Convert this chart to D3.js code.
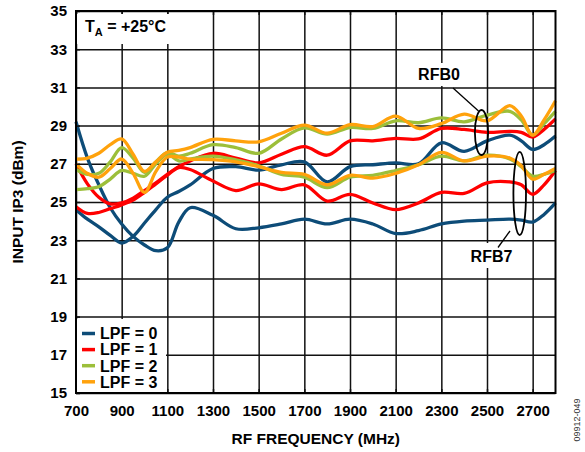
<!DOCTYPE html>
<html>
<head>
<meta charset="utf-8">
<script src="https://cdn.jsdelivr.net/npm/d3@7"></script>
<style>
  body { margin: 0; background: #fff; }
  svg { display: block; font-family: "Liberation Sans", Arial, sans-serif; }
  .tick text { font-weight: bold; font-size: 15px; fill: #000; }
</style>
</head>
<body>
<svg id="chart" width="585" height="452"></svg>
<script>
// frequency points (MHz)
const freq = [700, 750, 800, 850, 900, 950, 1000, 1050, 1100, 1150, 1200, 1300, 1400, 1500, 1600, 1700,
  1800, 1900, 2000, 2100, 2200, 2300, 2400, 2500, 2600, 2650, 2700, 2750, 2800];

// input IP3 (dBm), RFB0 = upper group, RFB7 = lower group
const lpf0Rfb0 = [24.6, 24.1, 23.7, 23.25, 22.85, 23.2, 23.9, 24.6, 25.25, 25.55, 25.9, 26.75, 26.85, 26.67, 26.95, 27.1,
  26.05, 26.85, 26.95, 27.05, 27.0, 28.1, 27.65, 28.2, 28.5, 28.2, 27.75, 28.0, 28.45];
const lpf0Rfb7 = [29.2, 27.3, 25.9, 24.7, 23.85, 23.2, 22.75, 22.45, 22.6, 23.95, 24.7, 24.3, 23.6, 23.65, 23.85, 24.1,
  23.85, 24.1, 23.85, 23.35, 23.5, 23.85, 24.0, 24.05, 24.1, 24.05, 23.95, 24.35, 24.95];
const lpf1Rfb0 = [27.0, 25.95, 25.25, 24.9, 24.95, 25.2, 25.6, 26.0, 26.45, 26.85, 27.15, 27.55, 27.3, 27.05, 27.5, 27.9,
  27.45, 28.2, 28.2, 28.33, 28.3, 28.85, 28.8, 28.65, 28.7, 28.65, 28.4, 28.8, 29.35];
const lpf1Rfb7 = [24.75, 24.4, 24.45, 24.65, 24.85, 25.1, 25.5, 25.95, 26.4, 26.8, 26.7, 26.1, 25.6, 25.95, 25.65, 25.9,
  25.05, 25.4, 24.95, 24.6, 24.95, 25.5, 25.45, 26.0, 26.05, 25.9, 25.4, 25.9, 26.65];
const lpf2Rfb0 = [26.7, 26.45, 26.5, 27.1, 27.85, 27.3, 26.55, 27.1, 27.6, 27.4, 27.55, 28.0, 27.85, 27.55, 28.3, 28.88,
  28.55, 28.9, 28.85, 29.25, 29.15, 29.4, 29.2, 29.55, 29.75, 29.3, 28.5, 29.1, 29.75];
const lpf2Rfb7 = [25.65, 25.7, 25.8, 26.2, 26.65, 26.5, 26.35, 27.0, 27.5, 27.15, 27.25, 27.4, 27.2, 26.9, 26.45, 26.3,
  25.75, 26.3, 26.4, 26.65, 26.95, 27.4, 27.15, 27.45, 27.25, 26.85, 26.35, 26.45, 26.65];
const lpf3Rfb0 = [27.25, 27.3, 27.55, 28.0, 28.3, 27.5, 26.6, 27.1, 27.6, 27.7, 27.85, 28.28, 28.2, 28.15, 28.6, 29.03,
  28.6, 29.05, 28.95, 29.5, 28.85, 29.1, 29.6, 29.25, 30.05, 29.5, 28.5, 29.3, 30.3];
const lpf3Rfb7 = [27.0, 26.5, 26.3, 26.75, 27.25, 26.5, 25.5, 26.6, 27.35, 27.35, 27.25, 27.22, 27.1, 26.85, 26.55, 26.45,
  25.9, 26.4, 26.25, 26.5, 26.95, 27.6, 27.15, 27.4, 27.3, 26.9, 26.2, 26.45, 26.75];

const seriesNames = ["LPF = 0", "LPF = 1", "LPF = 2", "LPF = 3"];
const seriesColors = ["#0d4c78", "#ff0000", "#9cbf3a", "#ffa20c"];
const seriesValues = [[lpf0Rfb0, lpf0Rfb7], [lpf1Rfb0, lpf1Rfb7], [lpf2Rfb0, lpf2Rfb7], [lpf3Rfb0, lpf3Rfb7]];

const xTicks = [700, 900, 1100, 1300, 1500, 1700, 1900, 2100, 2300, 2500, 2700];
const yTicks = [15, 17, 19, 21, 23, 25, 27, 29, 31, 33, 35];

const margin = { top: 11, right: 29.5, bottom: 59, left: 76 };
const width = 585 - margin.left - margin.right;
const height = 452 - margin.top - margin.bottom;

const svg = d3.select("#chart");
const g = svg.append("g").attr("transform", `translate(${margin.left}, ${margin.top})`);

const x = d3.scaleLinear().domain([700, 2800]).range([0, width]);
const y = d3.scaleLinear().domain([15, 35]).range([height, 0]);

// grid
g.append("g")
  .attr("transform", `translate(0, ${height})`)
  .call(d3.axisBottom(x).tickValues(xTicks).tickSize(-height).tickFormat(""))
  .call(a => a.select(".domain").remove())
  .selectAll("line").attr("stroke", "#111").attr("stroke-width", 1.5);
g.append("g")
  .call(d3.axisLeft(y).tickValues(yTicks).tickSize(-width).tickFormat(""))
  .call(a => a.select(".domain").remove())
  .selectAll("line").attr("stroke", "#111").attr("stroke-width", 1.5);

// curves
const line = d3.line()
  .x((d, i) => x(freq[i]))
  .y(d => y(d))
  .curve(d3.curveCatmullRom.alpha(0.5));

const curves = [];
seriesValues.forEach((pair, si) => pair.forEach(v => curves.push({ color: seriesColors[si], values: v })));

g.append("g").selectAll("path")
  .data(curves)
  .join("path")
  .attr("d", d => line(d.values))
  .attr("fill", "none")
  .attr("stroke", d => d.color)
  .attr("stroke-width", 3.3)
  .attr("stroke-linejoin", "round");

// white label boxes
const boxes = [
  { x0: 77, y0: 14, x1: 176, y1: 44 },
  { x0: 77, y0: 319, x1: 166, y1: 392 },
  { x0: 414, y0: 63, x1: 464, y1: 86 },
  { x0: 468, y0: 243, x1: 515, y1: 268 }
];
svg.append("g").selectAll("rect")
  .data(boxes)
  .join("rect")
  .attr("x", d => d.x0).attr("y", d => d.y0)
  .attr("width", d => d.x1 - d.x0).attr("height", d => d.y1 - d.y0)
  .attr("fill", "#fff");

// inner ticks + frame
g.append("g")
  .attr("transform", `translate(0, ${height})`)
  .call(d3.axisTop(x).tickValues(xTicks).tickSize(4).tickFormat(""))
  .call(a => a.select(".domain").remove())
  .selectAll("line").attr("stroke", "#111").attr("stroke-width", 1.5);
g.append("g")
  .call(d3.axisRight(y).tickValues(yTicks).tickSize(4).tickFormat(""))
  .call(a => a.select(".domain").remove())
  .selectAll("line").attr("stroke", "#111").attr("stroke-width", 1.5);
g.append("g")
  .call(d3.axisBottom(x).tickValues(xTicks).tickSize(4).tickFormat(""))
  .call(a => a.select(".domain").remove())
  .selectAll("line").attr("stroke", "#111").attr("stroke-width", 1.5);

g.append("rect")
  .attr("width", width).attr("height", height)
  .attr("fill", "none").attr("stroke", "#000").attr("stroke-width", 2);

// tick labels
g.append("g")
  .attr("transform", `translate(0, ${height})`)
  .call(d3.axisBottom(x).tickValues(xTicks).tickSize(0).tickPadding(12).tickFormat(d3.format("d")))
  .call(a => a.select(".domain").remove());
g.append("g")
  .call(d3.axisLeft(y).tickValues(yTicks).tickSize(0).tickPadding(9).tickFormat(d3.format("d")))
  .call(a => a.select(".domain").remove());

// axis titles
svg.append("text")
  .attr("x", margin.left + width / 2).attr("y", 444)
  .attr("text-anchor", "middle")
  .attr("font-weight", "bold").attr("font-size", 15.5)
  .text("RF FREQUENCY (MHz)");
svg.append("text")
  .attr("transform", `translate(23, ${margin.top + height / 2}) rotate(-90)`)
  .attr("text-anchor", "middle")
  .attr("font-weight", "bold").attr("font-size", 15.5)
  .text("INPUT IP3 (dBm)");
svg.append("text")
  .attr("transform", "translate(580, 420) rotate(-90)")
  .attr("text-anchor", "middle")
  .attr("font-size", 9).attr("fill", "#333")
  .text("09912-049");

// temperature note
const ta = svg.append("text")
  .attr("x", 85).attr("y", 31.5)
  .attr("font-weight", "bold").attr("font-size", 16);
ta.append("tspan").text("T");
ta.append("tspan").attr("font-size", 11).attr("dy", 4).text("A");
ta.append("tspan").attr("dy", -4).text(" = +25°C");

// legend
const legend = svg.append("g").selectAll("g")
  .data(seriesNames)
  .join("g")
  .attr("transform", (d, i) => `translate(82, ${333.5 + i * 16.1})`);
legend.append("line")
  .attr("x1", 0).attr("x2", 13)
  .attr("stroke", (d, i) => seriesColors[i])
  .attr("stroke-width", 3.5);
legend.append("text")
  .attr("x", 18).attr("y", 5.8)
  .attr("font-weight", "bold").attr("font-size", 16)
  .text(d => d);

// RFB annotations
const notes = [
  { label: "RFB0", tx: 439, ty: 80, cx: 481.5, cy: 132.5, rx: 6.6, ry: 22.5, l: [453, 88, 478.5, 111] },
  { label: "RFB7", tx: 491.5, ty: 261.5, cx: 519.7, cy: 193.5, rx: 6.3, ry: 41.7, l: [510, 231, 498, 247.5] }
];
const ann = svg.append("g").selectAll("g").data(notes).join("g");
ann.append("ellipse")
  .attr("cx", d => d.cx).attr("cy", d => d.cy)
  .attr("rx", d => d.rx).attr("ry", d => d.ry)
  .attr("fill", "none").attr("stroke", "#000").attr("stroke-width", 1.8);
ann.append("line")
  .attr("x1", d => d.l[0]).attr("y1", d => d.l[1])
  .attr("x2", d => d.l[2]).attr("y2", d => d.l[3])
  .attr("stroke", "#000").attr("stroke-width", 1.3);
ann.append("text")
  .attr("x", d => d.tx).attr("y", d => d.ty)
  .attr("text-anchor", "middle")
  .attr("font-weight", "bold").attr("font-size", 16)
  .text(d => d.label);
</script>
</body>
</html>
